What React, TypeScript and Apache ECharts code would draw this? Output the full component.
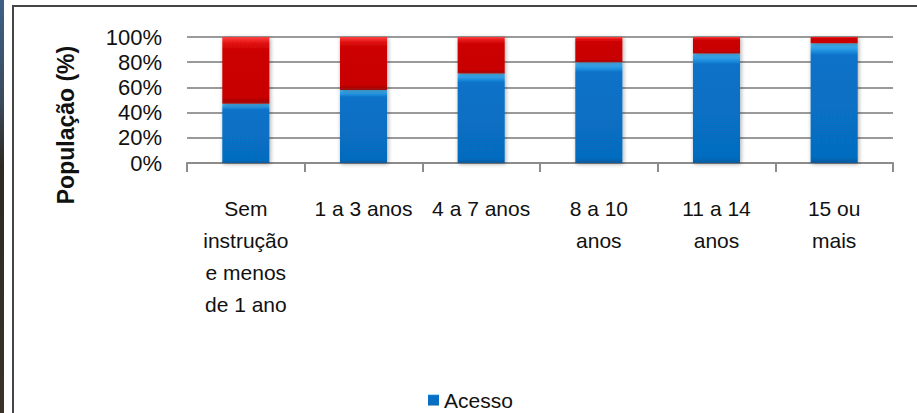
import React, { useEffect, useRef } from "react";
import * as echarts from "echarts";

const categories = [
  "Sem\ninstrução\ne menos\nde 1 ano",
  "1 a 3 anos",
  "4 a 7 anos",
  "8 a 10\nanos",
  "11 a 14\nanos",
  "15 ou\nmais",
];
const acesso = [47, 58, 71, 80, 87, 95];
const semAcesso = [53, 42, 29, 20, 13, 5];
const yTicks = [0, 20, 40, 60, 80, 100];
const yAxisTitle = "População (%)";
const legendItems = ["Acesso"];

const FONT = "'Liberation Sans', Arial, sans-serif";

export default function App() {
  const ref = useRef<HTMLDivElement>(null);
  useEffect(() => {
    if (!ref.current) return;
    const chart = echarts.init(ref.current, null, { renderer: "svg" });
    const blue = new echarts.graphic.LinearGradient(0, 0, 0, 1, [
      { offset: 0, color: "#52bdf7" },
      { offset: 0.05, color: "#2a9be6" },
      { offset: 0.1, color: "#0872c8" },
      { offset: 0.95, color: "#066cbf" },
      { offset: 1, color: "#075a9c" },
    ]);
    const red = new echarts.graphic.LinearGradient(0, 0, 0, 1, [
      { offset: 0, color: "#ff4040" },
      { offset: 0.1, color: "#e01010" },
      { offset: 0.2, color: "#cc0000" },
      { offset: 0.9, color: "#c80000" },
      { offset: 1, color: "#9a0a0a" },
    ]);
    chart.setOption({
      animation: false,
      backgroundColor: "#ffffff",
      textStyle: { fontFamily: FONT },
      grid: { left: 187, right: 24, top: 37, bottom: 250, containLabel: false },
      legend: {
        data: legendItems,
        left: 428,
        top: 389,
        padding: 0,
        itemWidth: 11,
        itemHeight: 11,
        icon: "rect",
        textStyle: { fontSize: 21, lineHeight: 22, color: "#111", fontFamily: FONT },
      },
      graphic: [
        {
          type: "rect",
          shape: { x: 0, y: 0, width: 4, height: 413 },
          style: {
            fill: new echarts.graphic.LinearGradient(0, 0, 0, 1, [
              { offset: 0, color: "#3e6088" },
              { offset: 0.25, color: "#3a4a5a" },
              { offset: 0.4, color: "#2e2a22" },
              { offset: 1, color: "#3a3226" },
            ]),
          },
          silent: true,
        },
        {
          type: "polyline",
          shape: { points: [[13, 413], [13, 6], [917, 6]] },
          style: { stroke: "#454545", lineWidth: 2, fill: "none" },
          silent: true,
        },
        {
          type: "text",
          x: 66,
          y: 125,
          rotation: Math.PI / 2,
          style: {
            text: yAxisTitle,
            fontSize: 23,
            fontWeight: "bold",
            fontFamily: FONT,
            fill: "#111",
            align: "center",
            verticalAlign: "middle",
          },
        },
      ],
      xAxis: {
        type: "category",
        data: categories,
        axisLine: { lineStyle: { color: "#8c8c8c", width: 2 } },
        axisTick: { show: true, length: 9, lineStyle: { color: "#8c8c8c", width: 2 } },
        axisLabel: {
          interval: 0,
          fontSize: 21,
          lineHeight: 32,
          color: "#111",
          margin: 29,
          fontFamily: FONT,
        },
      },
      yAxis: {
        type: "value",
        min: 0,
        max: 100,
        interval: 20,
        axisLine: { show: false },
        axisTick: { show: false },
        splitLine: { lineStyle: { color: "#9a9a9a", width: 2 } },
        axisLabel: {
          fontSize: 22,
          color: "#111",
          margin: 25,
          fontFamily: FONT,
          formatter: (v: number) => (yTicks.includes(v) ? v + "%" : ""),
        },
      },
      series: [
        {
          name: "Acesso",
          type: "bar",
          stack: "total",
          barWidth: "40%",
          data: acesso,
          itemStyle: {
            color: blue,
            shadowColor: "rgba(0,0,0,0.35)",
            shadowBlur: 4,
            shadowOffsetX: 1,
            shadowOffsetY: 1,
          },
        },
        {
          name: "Sem acesso",
          type: "bar",
          stack: "total",
          barWidth: "40%",
          data: semAcesso,
          itemStyle: {
            color: red,
            shadowColor: "rgba(0,0,0,0.35)",
            shadowBlur: 4,
            shadowOffsetX: 1,
            shadowOffsetY: 1,
          },
        },
      ],
    });
    return () => chart.dispose();
  }, []);
  return (
    <div
      ref={ref}
      style={{ position: "absolute", left: 0, top: 0, width: 917, height: 413 }}
    />
  );
}
